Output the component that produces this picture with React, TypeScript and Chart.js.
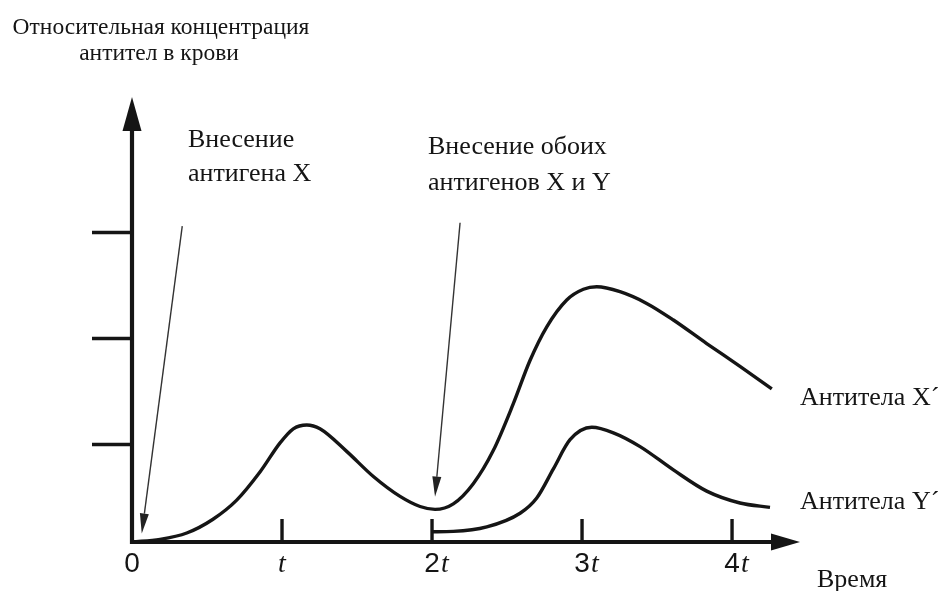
import { useEffect, useRef } from 'react';
import { Chart, registerables } from 'chart.js';

Chart.register(...registerables);

// ---- data (time in units of t, relative antibody concentration) ----
const antibodyXTime = [0, 0.187, 0.365, 0.54, 0.698, 0.853, 0.987, 1.075, 1.165, 1.253, 1.431, 1.609, 1.787, 1.92, 2.02, 2.142, 2.275, 2.409, 2.542, 2.653, 2.765, 2.898, 3.009, 3.098, 3.253, 3.431, 3.609, 3.831, 4.053, 4.265];
const antibodyXLevel = [0, 0.025, 0.085, 0.215, 0.395, 0.66, 0.935, 1.068, 1.104, 1.068, 0.855, 0.618, 0.43, 0.335, 0.308, 0.36, 0.55, 0.865, 1.305, 1.712, 2.03, 2.283, 2.384, 2.408, 2.361, 2.251, 2.094, 1.872, 1.657, 1.445];

const antibodyYTime = [2.0, 2.142, 2.365, 2.587, 2.698, 2.809, 2.92, 3.065, 3.209, 3.387, 3.609, 3.831, 4.053, 4.253];
const antibodyYLevel = [0.097, 0.1, 0.142, 0.271, 0.415, 0.69, 0.965, 1.082, 1.03, 0.9, 0.68, 0.48, 0.368, 0.327];

const xTickValues = [0, 1, 2, 3, 4];
const xTickLabels = ['0', 't', '2t', '3t', '4t'];
const yTickValues = [0.92, 1.92, 2.92];

const xMax = 4.453;
const yMax = 4.198;

// annotation arrows: [fromT, fromLevel, toT, toLevel]
const arrowAntigenX = [0.335, 2.98, 0.065, 0.08];
const arrowAntigenXY = [2.187, 3.012, 2.02, 0.428];

const yTitleLines = ['Относительная концентрация', 'антител в крови'];
const noteAntigenX = ['Внесение', 'антигена X'];
const noteAntigenXY = ['Внесение обоих', 'антигенов X и Y'];
const labelSeriesX = 'Антитела X´';
const labelSeriesY = 'Антитела Y´';
const xTitle = 'Время';

const INK = '#151515';
const SERIF = '"Liberation Serif", "Times New Roman", serif';
const SANS = '"Liberation Sans", Arial, sans-serif';

function drawArrow(ctx: CanvasRenderingContext2D, x1: number, y1: number, x2: number, y2: number) {
  const ang = Math.atan2(y2 - y1, x2 - x1);
  const len = 20;
  const hw = 4.5;
  const bx = x2 - Math.cos(ang) * len;
  const by = y2 - Math.sin(ang) * len;
  ctx.beginPath();
  ctx.moveTo(x1, y1);
  ctx.lineTo(bx, by);
  ctx.stroke();
  ctx.beginPath();
  ctx.moveTo(x2, y2);
  ctx.lineTo(bx + Math.sin(ang) * hw, by - Math.cos(ang) * hw);
  ctx.lineTo(bx - Math.sin(ang) * hw, by + Math.cos(ang) * hw);
  ctx.closePath();
  ctx.fill();
}

const sketchPlugin = {
  id: 'sketchAxes',
  afterDatasetsDraw(chart: any) {
    const { ctx, scales } = chart;
    const x = scales.x;
    const y = scales.y;
    const x0 = x.getPixelForValue(0);
    const y0 = y.getPixelForValue(0);
    const xEnd = x.getPixelForValue(xMax);
    const yEnd = y.getPixelForValue(yMax);
    ctx.save();
    ctx.strokeStyle = INK;
    ctx.fillStyle = INK;
    ctx.lineCap = 'butt';

    // y axis with arrow
    ctx.lineWidth = 4.2;
    ctx.beginPath();
    ctx.moveTo(x0, y0 + 2);
    ctx.lineTo(x0, yEnd + 30);
    ctx.stroke();
    ctx.beginPath();
    ctx.moveTo(x0, yEnd);
    ctx.lineTo(x0 - 9.5, yEnd + 34);
    ctx.lineTo(x0 + 9.5, yEnd + 34);
    ctx.closePath();
    ctx.fill();

    // x axis with arrow
    ctx.beginPath();
    ctx.moveTo(x0 - 2, y0);
    ctx.lineTo(xEnd - 26, y0);
    ctx.stroke();
    ctx.beginPath();
    ctx.moveTo(xEnd, y0);
    ctx.lineTo(xEnd - 29, y0 - 8.5);
    ctx.lineTo(xEnd - 29, y0 + 8.5);
    ctx.closePath();
    ctx.fill();

    // x ticks (pointing up)
    ctx.lineWidth = 3.4;
    xTickValues.forEach((v) => {
      if (v === 0) return;
      const px = x.getPixelForValue(v);
      ctx.beginPath();
      ctx.moveTo(px, y0);
      ctx.lineTo(px, y0 - 23);
      ctx.stroke();
    });
    // y ticks (pointing left)
    ctx.lineWidth = 3.6;
    yTickValues.forEach((v) => {
      const py = y.getPixelForValue(v);
      ctx.beginPath();
      ctx.moveTo(x0, py);
      ctx.lineTo(x0 - 40, py);
      ctx.stroke();
    });

    // x tick labels: sans digit + italic serif t
    ctx.textBaseline = 'alphabetic';
    ctx.textAlign = 'left';
    const digitFont = `28px ${SANS}`;
    const tFont = `italic 28px ${SERIF}`;
    xTickValues.forEach((v, i) => {
      const lab = xTickLabels[i];
      const hasT = lab.endsWith('t');
      const num = hasT ? lab.slice(0, -1) : lab;
      ctx.font = digitFont;
      const wn = num ? ctx.measureText(num).width : 0;
      ctx.font = tFont;
      const wt = hasT ? ctx.measureText('t').width : 0;
      const total = wn + wt;
      const px = x.getPixelForValue(v);
      let sx = px - total / 2 + (num && hasT ? 4 : 0);
      const by = y0 + 30;
      if (num) {
        ctx.font = digitFont;
        ctx.fillText(num, sx, by);
        sx += wn + 1;
      }
      if (hasT) {
        ctx.font = tFont;
        ctx.fillText('t', sx, by);
      }
    });

    // thin annotation arrows
    ctx.strokeStyle = '#333';
    ctx.fillStyle = '#222';
    ctx.lineWidth = 1.4;
    [arrowAntigenX, arrowAntigenXY].forEach((a) => {
      drawArrow(ctx, x.getPixelForValue(a[0]), y.getPixelForValue(a[1]), x.getPixelForValue(a[2]), y.getPixelForValue(a[3]));
    });

    // texts
    ctx.fillStyle = INK;
    ctx.font = `23.5px ${SERIF}`;
    ctx.textAlign = 'center';
    ctx.fillText(yTitleLines[0], 161, 34);
    ctx.fillText(yTitleLines[1], 159, 60);

    ctx.textAlign = 'left';
    ctx.font = `26px ${SERIF}`;
    ctx.fillText(noteAntigenX[0], 188, 147);
    ctx.fillText(noteAntigenX[1], 188, 181);
    ctx.fillText(noteAntigenXY[0], 428, 154);
    ctx.fillText(noteAntigenXY[1], 428, 190);
    ctx.fillText(labelSeriesX, 800, 405);
    ctx.fillText(labelSeriesY, 800, 509);
    ctx.font = `26px ${SERIF}`;
    ctx.fillText(xTitle, 817, 587);
    ctx.restore();
  },
};

export default function App() {
  const canvasRef = useRef<HTMLCanvasElement | null>(null);

  useEffect(() => {
    if (!canvasRef.current) return;
    const chart = new Chart(canvasRef.current, {
      type: 'line',
      data: {
        datasets: [
          {
            label: labelSeriesX,
            data: antibodyXTime.map((t, i) => ({ x: t, y: antibodyXLevel[i] })),
            borderColor: INK,
            borderWidth: 3.4,
            pointRadius: 0,
            cubicInterpolationMode: 'monotone',
            fill: false,
          },
          {
            label: labelSeriesY,
            data: antibodyYTime.map((t, i) => ({ x: t, y: antibodyYLevel[i] })),
            borderColor: INK,
            borderWidth: 3.4,
            pointRadius: 0,
            cubicInterpolationMode: 'monotone',
            fill: false,
          },
        ],
      },
      options: {
        responsive: false,
        animation: false,
        devicePixelRatio: 1,
        layout: { padding: { left: 132, right: 143, top: 97, bottom: 49 } },
        scales: {
          x: { type: 'linear', min: 0, max: xMax, display: false },
          y: { type: 'linear', min: 0, max: yMax, display: false },
        },
        plugins: { legend: { display: false }, tooltip: { enabled: false } },
        events: [],
      },
      plugins: [sketchPlugin],
    } as any);
    return () => chart.destroy();
  }, []);

  return (
    <div style={{ position: 'absolute', left: 0, top: 0, width: 943, height: 591, background: '#fff' }}>
      <canvas ref={canvasRef} width={943} height={591} />
    </div>
  );
}
